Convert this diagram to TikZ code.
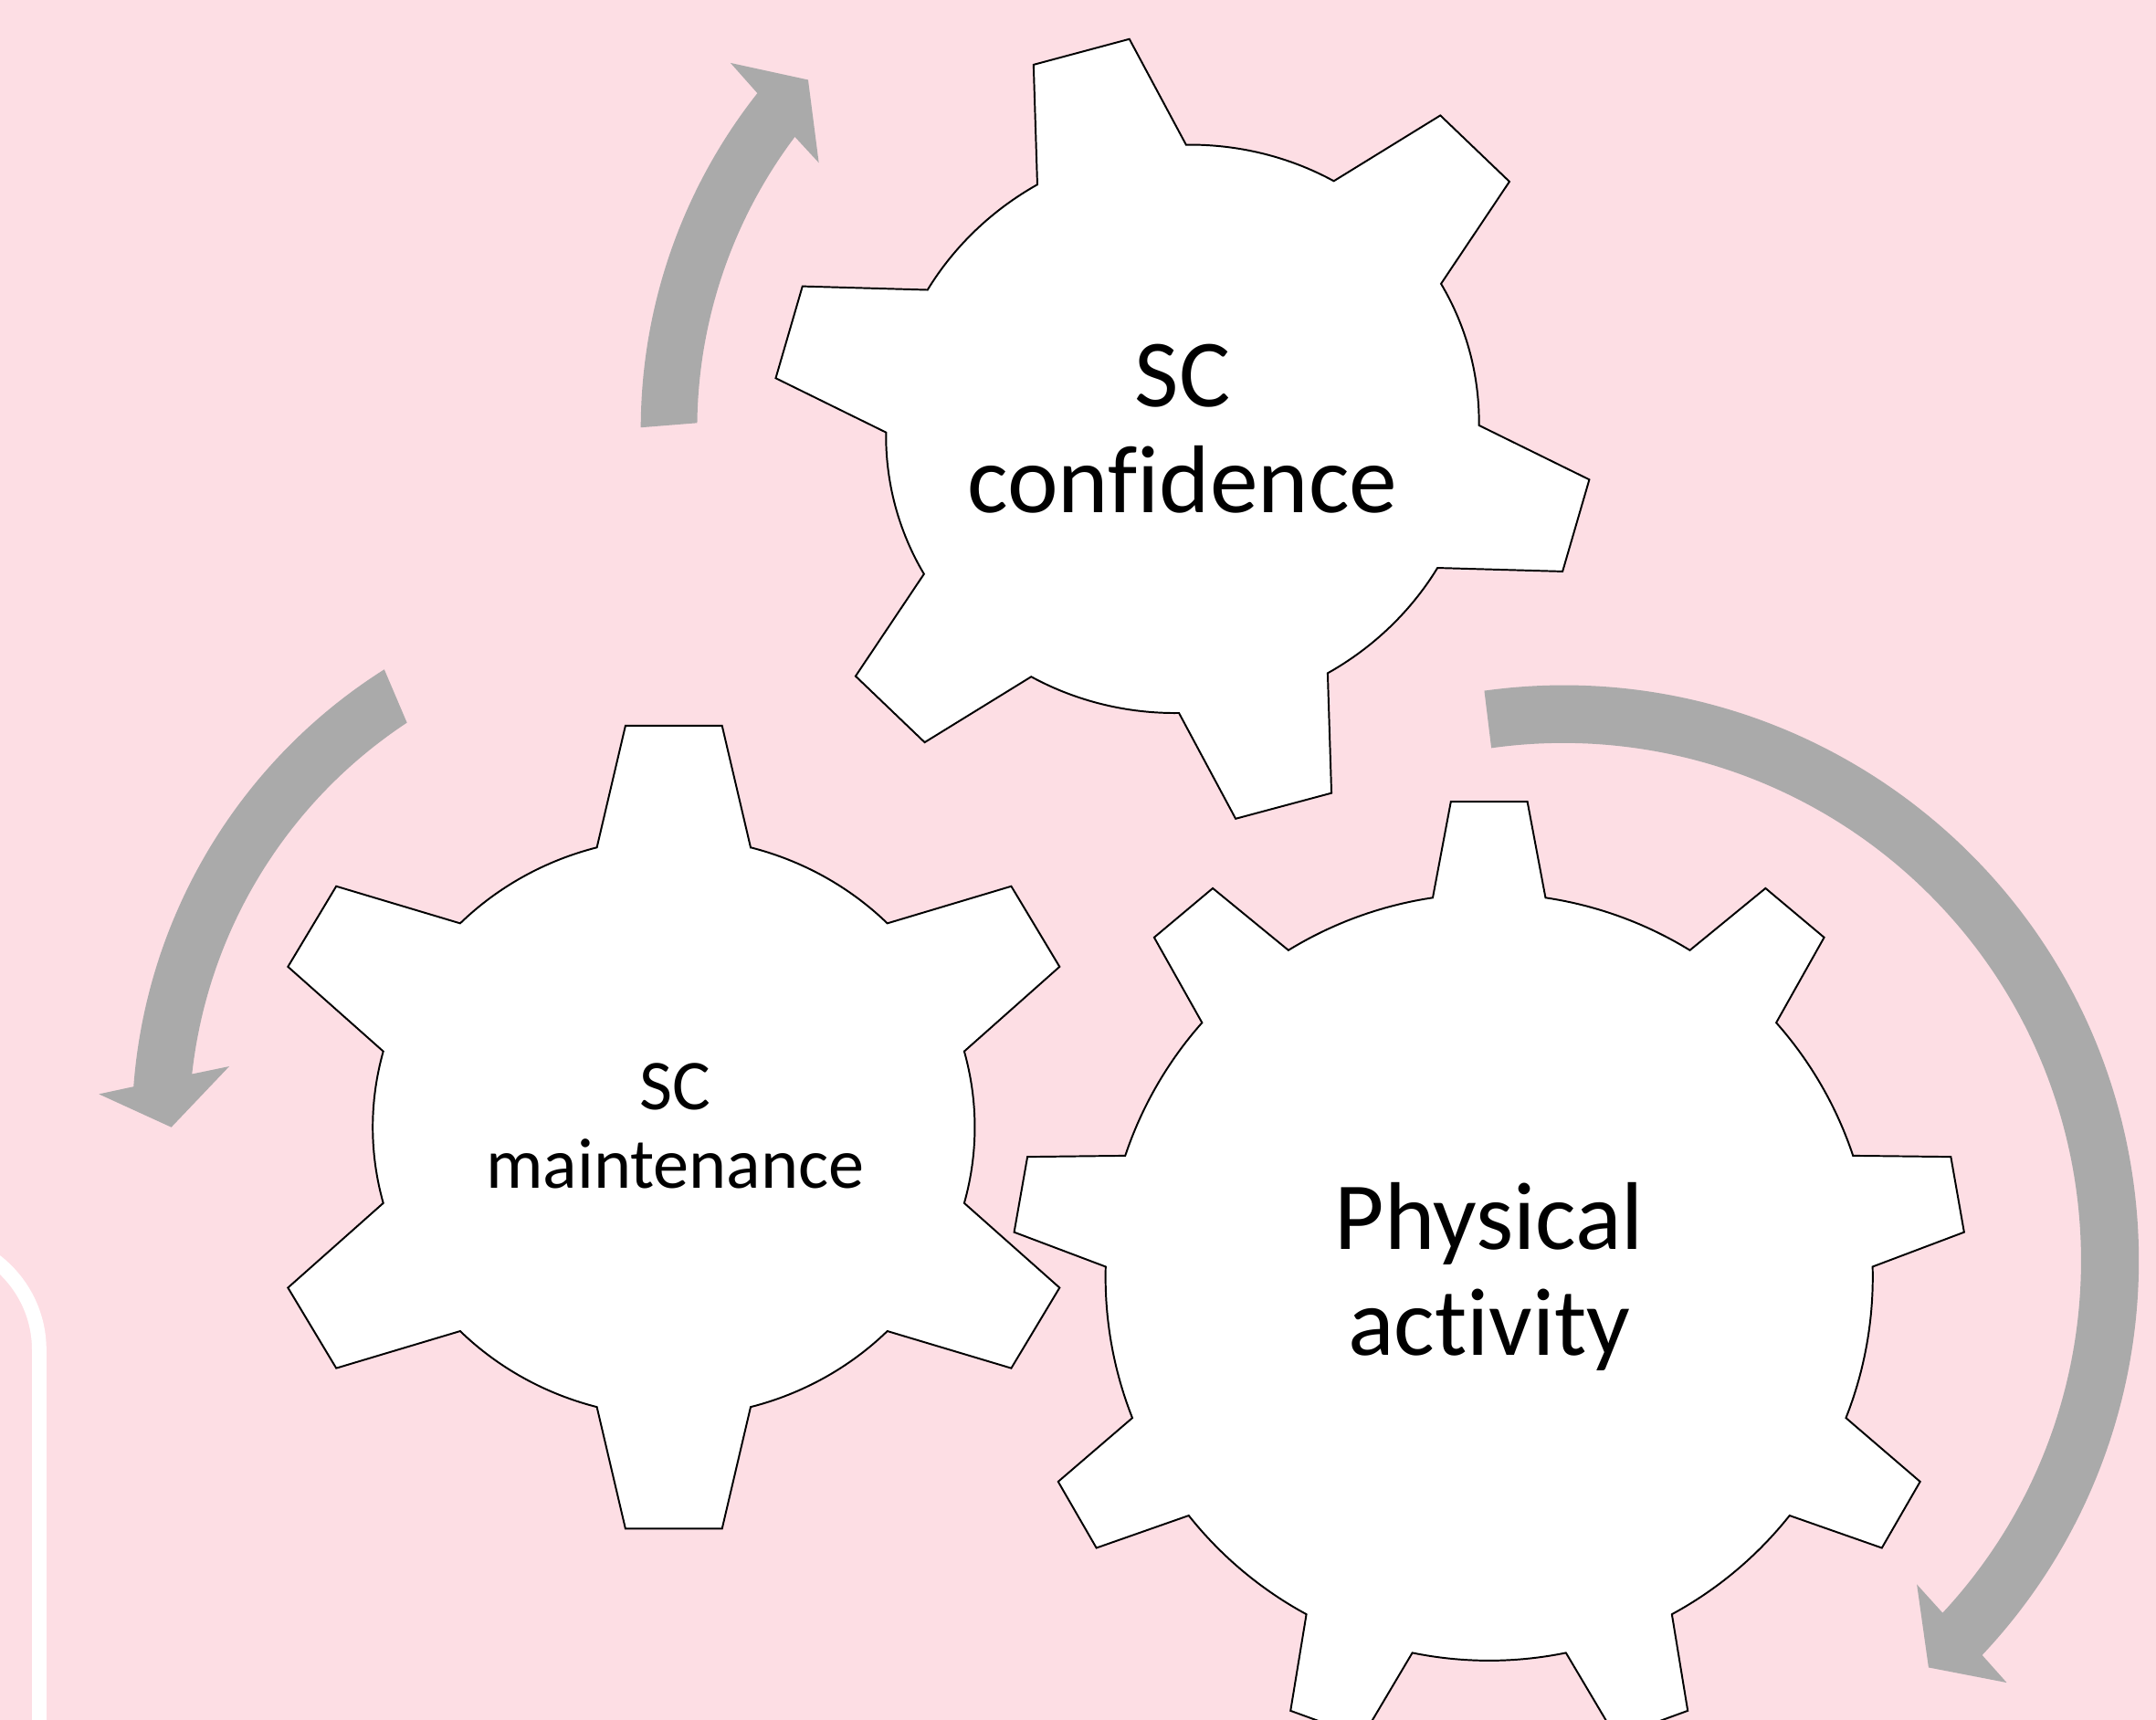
\documentclass[tikz,border=0pt]{standalone}
\usepackage{fontspec}
\setmainfont{Carlito}[Ligatures=NoCommon]
\definecolor{bgpink}{RGB}{253,222,228}
\definecolor{arrowgray}{RGB}{170,170,170}
\tikzset{
  gearshape/.style={draw=black, fill=white, line width=1.3pt, line join=miter},
  cyclearrow/.style={fill=arrowgray, draw=none},
  bigtext/.style={align=center, font=\fontsize{70}{77}\selectfont, inner sep=0pt},
  smalltext/.style={align=center, font=\fontsize{52}{57}\selectfont, inner sep=0pt}
}
\begin{document}
\begin{tikzpicture}[x=1pt,y=1pt]
\useasboundingbox (0,0) rectangle (1568,1251);
\clip (0,0) rectangle (1568,1251);
\fill[bgpink] (0,0) rectangle (1568,1251);
% white frame line at bottom left
\draw[white, line width=10.5pt] (28.5,-10) -- (28.5,269) arc[start angle=0, end angle=90, radius=81.7];
% centres
\coordinate (g1) at (860,939);
\coordinate (g2) at (490,431);
\coordinate (g3) at (1083,322);
\coordinate (a3) at (1137,334);
% arrows
\begin{scope}[shift={(g1)}]
\fill[cyclearrow] (179.85:394) arc[start angle=179.85, end angle=141.7, radius=394]
  -- (141.0:423) -- (137.0:372.3) -- (143.8:327.8) -- (143.0:353)
  arc[start angle=143.0, end angle=179.3, radius=353] -- cycle;
\end{scope}
\begin{scope}[shift={(g2)}]
\fill[cyclearrow] (122.3:394) arc[start angle=122.3, end angle=175.7, radius=394]
  -- (176.7:418.8) -- (180:365.4) -- (172.2:326.3) -- (173.7:352.5)
  arc[start angle=173.7, end angle=123.4, radius=352.5] -- cycle;
\end{scope}
\begin{scope}[shift={(a3)}]
\fill[cyclearrow] (97.9:418.5) arc[start angle=97.9, end angle=-43.3, radius=418.5]
  -- (-43.6:445.2) -- (-48.1:397.7) -- (-42.5:348.7) -- (-42.9:376.5)
  arc[start angle=-42.9, end angle=98.0, radius=376.5] -- cycle;
\end{scope}
% gear 1 : SC confidence
\begin{scope}[shift={(g1)}, rotate=15, xscale=1.05]
\draw[gearshape] (75:206)
  \foreach \k [evaluate=\k as \c using 90+60*\k] in {0,...,5} {
    -- ({\c-6.9}:286) -- ({\c+6.9}:286) -- ({\c+15}:206)
    arc[start angle={\c+15}, end angle={\c+45}, radius=206]
  } -- cycle;
\end{scope}
% gear 2 : SC maintenance
\begin{scope}[shift={(g2)}, xscale=1.04]
\draw[gearshape] (75.2:210.5)
  \foreach \k [evaluate=\k as \c using 90+60*\k] in {0,...,5} {
    -- ({\c-6.6}:294) -- ({\c+6.6}:294) -- ({\c+14.8}:210.5)
    arc[start angle={\c+14.8}, end angle={\c+45.2}, radius=210.5]
  } -- cycle;
\end{scope}
% gear 3 : Physical activity
\begin{scope}[shift={(g3)}]
\draw[gearshape] (81.55:279)
  \foreach \k [evaluate=\k as \c using 90+40*\k] in {0,...,8} {
    -- ({\c-4.6}:347) -- ({\c+4.6}:347) -- ({\c+8.45}:279)
    arc[start angle={\c+8.45}, end angle={\c+31.55}, radius=279]
  } -- cycle;
\end{scope}
% labels
\node[bigtext] (conf) at (860,939) {SC\\confidence};
\node[smalltext] (maint) at (491,432) {SC\\maintenance};
\node[bigtext] (phys) at (1083,322) {Physical\\activity};
\end{tikzpicture}
\end{document}
